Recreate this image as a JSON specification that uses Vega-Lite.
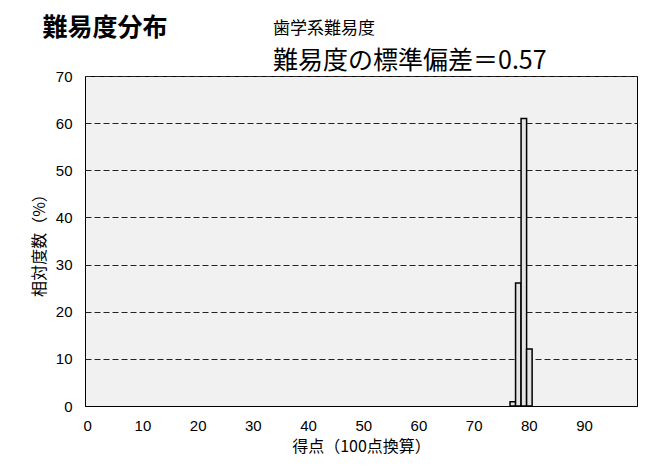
{
  "$schema": "https://vega.github.io/schema/vega-lite/v6.json",
  "width": 552,
  "height": 330,
  "autosize": {"type": "none"},
  "padding": {"left": 85, "top": 76, "right": 14, "bottom": 69},
  "background": "white",
  "title": {
    "text": "歯学系難易度",
    "subtitle": "難易度の標準偏差＝0.57",
    "anchor": "start",
    "frame": "group",
    "dx": 188,
    "offset": -60,
    "font": "Noto Sans CJK JP",
    "fontSize": 17,
    "fontWeight": "normal",
    "color": "black",
    "subtitleFont": "Noto Sans CJK JP",
    "subtitleFontSize": 25,
    "subtitleColor": "black",
    "subtitlePadding": 11
  },
  "data": {
    "values": [
      {"score": 77, "pct": 0.9},
      {"score": 78, "pct": 26.1},
      {"score": 79, "pct": 61.0},
      {"score": 80, "pct": 12.1}
    ]
  },
  "layer": [
    {
      "mark": {"type": "bar", "fill": "#e4e4e4", "stroke": "black", "strokeWidth": 1.5},
      "encoding": {
        "x": {
          "field": "score",
          "type": "ordinal",
          "scale": {
            "domain": [0,1,2,3,4,5,6,7,8,9,10,11,12,13,14,15,16,17,18,19,20,21,22,23,24,25,26,27,28,29,30,31,32,33,34,35,36,37,38,39,40,41,42,43,44,45,46,47,48,49,50,51,52,53,54,55,56,57,58,59,60,61,62,63,64,65,66,67,68,69,70,71,72,73,74,75,76,77,78,79,80,81,82,83,84,85,86,87,88,89,90,91,92,93,94,95,96,97,98,99],
            "paddingInner": 0,
            "paddingOuter": 0
          },
          "axis": {
            "orient": "bottom",
            "values": [0,10,20,30,40,50,60,70,80,90],
            "labelAngle": 0,
            "ticks": false,
            "domain": true,
            "domainColor": "black",
            "labelFont": "Liberation Sans",
            "labelFontSize": 15,
            "labelColor": "black",
            "labelPadding": 12,
            "title": "得点（100点換算）",
            "titleFont": "Noto Sans CJK JP",
            "titleFontSize": 16,
            "titleFontWeight": "normal",
            "titleColor": "black",
            "titlePadding": 5
          }
        },
        "y": {
          "field": "pct",
          "type": "quantitative",
          "scale": {"domain": [0, 70], "nice": false},
          "axis": {
            "values": [0,10,20,30,40,50,60,70],
            "ticks": false,
            "domain": false,
            "grid": true,
            "gridColor": "#222222",
            "gridDash": [6, 3],
            "gridWidth": 1,
            "labelFont": "Liberation Sans",
            "labelFontSize": 15,
            "labelColor": "black",
            "labelPadding": 13,
            "title": "相対度数（%）",
            "titleFont": "Noto Sans CJK JP",
            "titleFontSize": 16,
            "titleFontWeight": "normal",
            "titleColor": "black",
            "titlePadding": 8
          }
        }
      }
    },
    {
      "mark": {"type": "point", "opacity": 0},
      "encoding": {
        "x": {
          "field": "score",
          "type": "ordinal",
          "axis": {
            "orient": "top",
            "labels": false,
            "ticks": false,
            "domain": false,
            "grid": false,
            "title": "難易度分布",
            "titleX": -43,
            "titleY": -61,
            "titleAlign": "left",
            "titleAnchor": null,
            "titleBaseline": "top",
            "titleAngle": 0,
            "titleFont": "Noto Sans CJK JP",
            "titleFontSize": 25,
            "titleFontWeight": "bold",
            "titleColor": "black"
          }
        },
        "y": {"field": "pct", "type": "quantitative"}
      }
    }
  ],
  "resolve": {"axis": {"x": "independent"}},
  "config": {
    "view": {"stroke": "black", "strokeWidth": 1, "fill": "#f1f1f1"}
  }
}
